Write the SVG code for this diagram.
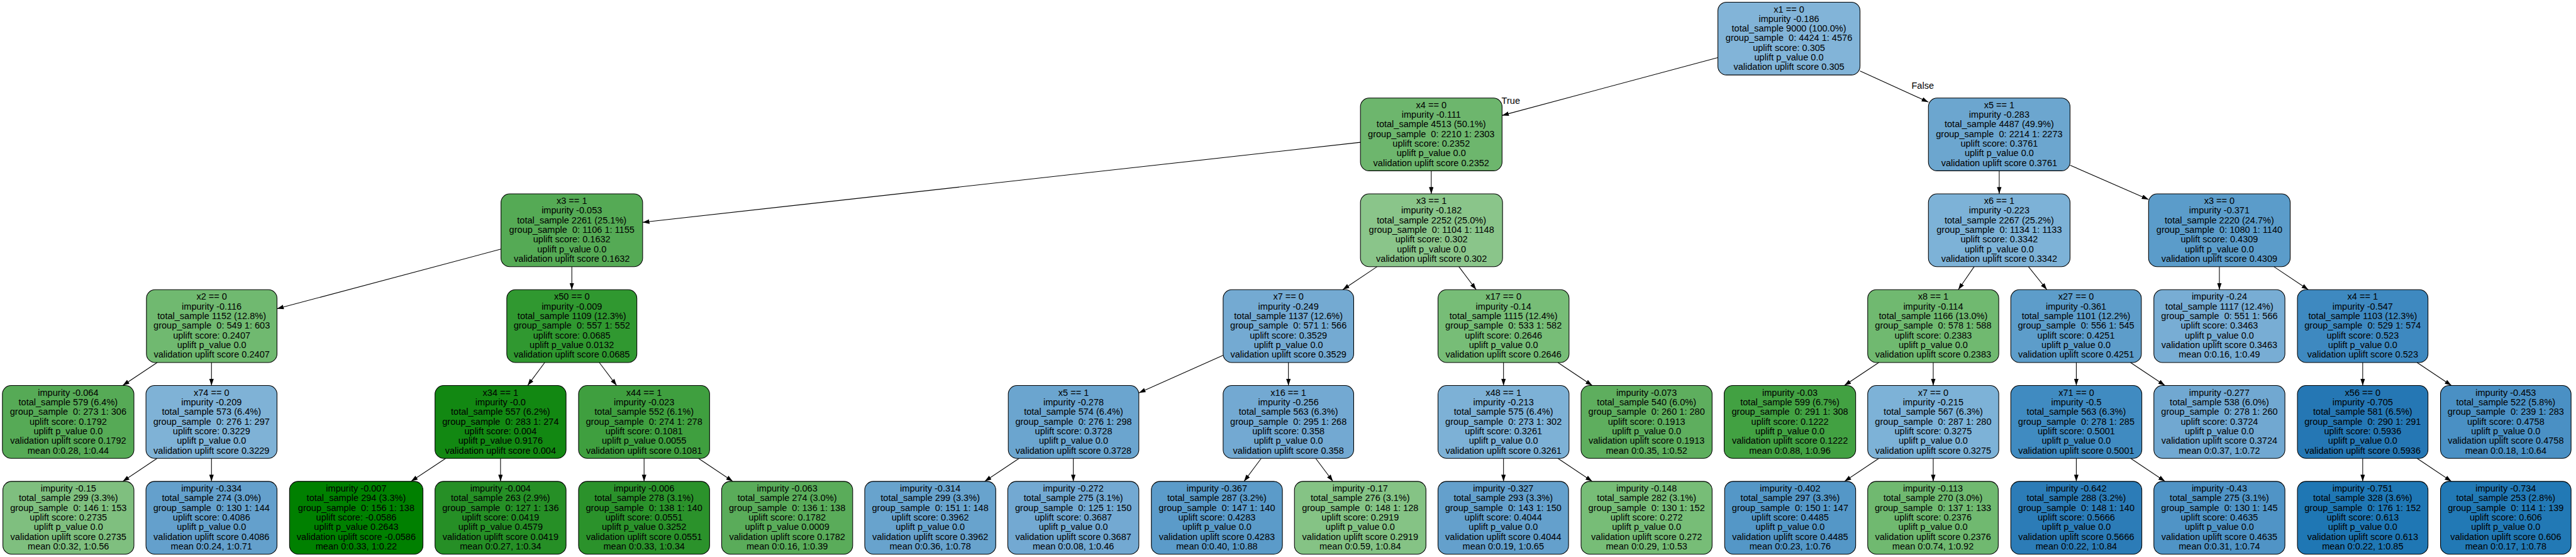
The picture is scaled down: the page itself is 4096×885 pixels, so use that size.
<svg xmlns="http://www.w3.org/2000/svg" width="4096" height="885" viewBox="0 0 4096 885">
<style>
.node rect{stroke:#000;stroke-width:1.4}
.node text,.lbl{font-family:"Liberation Sans",Arial,sans-serif;font-size:19px;fill:#000;white-space:pre}
.node text{text-anchor:middle}
#edges path{fill:none;stroke:#000;stroke-width:1.4;marker-end:url(#arr)}
</style>
<defs>
<marker id="arr" markerUnits="userSpaceOnUse" markerWidth="15" markerHeight="10" refX="14" refY="4.7" orient="auto"><path d="M0,0 L14,4.7 L0,9.4 z" fill="#000"/></marker>
</defs>
<rect width="4096" height="885" fill="#fff"/>
<g transform="scale(0.766)">
<g id="edges">
<path d="M3566,119.5 L3118,239.4"/>
<path d="M3861,147.2 L4003,211.8"/>
<path d="M2824,295.2 L1334,461.2"/>
<path d="M2971,354.3 L2971,402.1"/>
<path d="M4150,354.3 L4150,402.1"/>
<path d="M4297,342.7 L4460,413.7"/>
<path d="M1040,516.7 L575,640.4"/>
<path d="M1187,553.1 L1187,600.9"/>
<path d="M2858.7,553.1 L2787.3,600.9"/>
<path d="M3028.3,553.1 L3064.2,600.9"/>
<path d="M4098,553.1 L4065,600.9"/>
<path d="M4210.6,553.1 L4248.9,600.9"/>
<path d="M4607,553.1 L4607,600.9"/>
<path d="M4720,553.1 L4791.5,600.9"/>
<path d="M326.3,751.9 L254.7,799.7"/>
<path d="M439,751.9 L439,799.7"/>
<path d="M1130.8,751.9 L1095.2,799.7"/>
<path d="M1244,751.9 L1280,799.7"/>
<path d="M2539,736.8 L2364,814.8"/>
<path d="M2674.5,751.9 L2674.5,799.7"/>
<path d="M3121,751.9 L3121,799.7"/>
<path d="M3233.8,751.9 L3305.2,799.7"/>
<path d="M3900,751.9 L3828.5,799.7"/>
<path d="M4013,751.9 L4013,799.7"/>
<path d="M4310,751.9 L4310,799.7"/>
<path d="M4422.5,751.9 L4494,799.7"/>
<path d="M4904.5,751.9 L4904.5,799.7"/>
<path d="M5017.3,751.9 L5088.7,799.7"/>
<path d="M326.2,950.7 L254.8,998.5"/>
<path d="M439,950.7 L439,998.5"/>
<path d="M925.3,950.7 L853.2,998.5"/>
<path d="M1039,950.7 L1039,998.5"/>
<path d="M1337,950.7 L1337,998.5"/>
<path d="M1449.8,950.7 L1521.2,998.5"/>
<path d="M2115.5,950.7 L2044,998.5"/>
<path d="M2228,950.7 L2228,998.5"/>
<path d="M2618.1,950.7 L2582.4,998.5"/>
<path d="M2731.1,950.7 L2766.9,998.5"/>
<path d="M3121,950.7 L3121,998.5"/>
<path d="M3233.8,950.7 L3305.2,998.5"/>
<path d="M3900.2,950.7 L3828.8,998.5"/>
<path d="M4013,950.7 L4013,998.5"/>
<path d="M4310,950.7 L4310,998.5"/>
<path d="M4422.8,950.7 L4494.2,998.5"/>
<path d="M4904.5,950.7 L4904.5,998.5"/>
<path d="M5017.3,950.7 L5088.7,998.5"/>
<text class="lbl" x="3117" y="216">True</text>
<text class="lbl" x="3968" y="184">False</text>
</g>

<g id="n0" class="node"><rect x="3566" y="4.5" width="295" height="151" rx="18" fill="#82b4d8"/><text y="25.5"><tspan x="3713.5">x1 == 0</tspan><tspan x="3713.5" dy="20">impurity -0.186</tspan><tspan x="3713.5" dy="20">total_sample 9000 (100.0%)</tspan><tspan x="3713.5" dy="20">group_sample  0: 4424 1: 4576</tspan><tspan x="3713.5" dy="20">uplift score: 0.305</tspan><tspan x="3713.5" dy="20">uplift p_value 0.0</tspan><tspan x="3713.5" dy="20">validation uplift score 0.305</tspan></text></g>

<g id="n1" class="node"><rect x="2824" y="203.3" width="294" height="151" rx="18" fill="#6db66d"/><text y="224.3"><tspan x="2971">x4 == 0</tspan><tspan x="2971" dy="20">impurity -0.111</tspan><tspan x="2971" dy="20">total_sample 4513 (50.1%)</tspan><tspan x="2971" dy="20">group_sample  0: 2210 1: 2303</tspan><tspan x="2971" dy="20">uplift score: 0.2352</tspan><tspan x="2971" dy="20">uplift p_value 0.0</tspan><tspan x="2971" dy="20">validation uplift score 0.2352</tspan></text></g>

<g id="n2" class="node"><rect x="4003" y="203.3" width="294" height="151" rx="18" fill="#6ca6cf"/><text y="224.3"><tspan x="4150">x5 == 1</tspan><tspan x="4150" dy="20">impurity -0.283</tspan><tspan x="4150" dy="20">total_sample 4487 (49.9%)</tspan><tspan x="4150" dy="20">group_sample  0: 2214 1: 2273</tspan><tspan x="4150" dy="20">uplift score: 0.3761</tspan><tspan x="4150" dy="20">uplift p_value 0.0</tspan><tspan x="4150" dy="20">validation uplift score 0.3761</tspan></text></g>

<g id="n3" class="node"><rect x="1040" y="402.1" width="294" height="151" rx="18" fill="#55aa55"/><text y="423.1"><tspan x="1187">x3 == 1</tspan><tspan x="1187" dy="20">impurity -0.053</tspan><tspan x="1187" dy="20">total_sample 2261 (25.1%)</tspan><tspan x="1187" dy="20">group_sample  0: 1106 1: 1155</tspan><tspan x="1187" dy="20">uplift score: 0.1632</tspan><tspan x="1187" dy="20">uplift p_value 0.0</tspan><tspan x="1187" dy="20">validation uplift score 0.1632</tspan></text></g>

<g id="n4" class="node"><rect x="2824" y="402.1" width="295" height="151" rx="18" fill="#8ac58a"/><text y="423.1"><tspan x="2971.5">x3 == 1</tspan><tspan x="2971.5" dy="20">impurity -0.182</tspan><tspan x="2971.5" dy="20">total_sample 2252 (25.0%)</tspan><tspan x="2971.5" dy="20">group_sample  0: 1104 1: 1148</tspan><tspan x="2971.5" dy="20">uplift score: 0.302</tspan><tspan x="2971.5" dy="20">uplift p_value 0.0</tspan><tspan x="2971.5" dy="20">validation uplift score 0.302</tspan></text></g>

<g id="n5" class="node"><rect x="4003" y="402.1" width="294" height="151" rx="18" fill="#7db2d7"/><text y="423.1"><tspan x="4150">x6 == 1</tspan><tspan x="4150" dy="20">impurity -0.223</tspan><tspan x="4150" dy="20">total_sample 2267 (25.2%)</tspan><tspan x="4150" dy="20">group_sample  0: 1134 1: 1133</tspan><tspan x="4150" dy="20">uplift score: 0.3342</tspan><tspan x="4150" dy="20">uplift p_value 0.0</tspan><tspan x="4150" dy="20">validation uplift score 0.3342</tspan></text></g>

<g id="n6" class="node"><rect x="4460" y="402.1" width="294" height="151" rx="18" fill="#5b9cca"/><text y="423.1"><tspan x="4607">x3 == 0</tspan><tspan x="4607" dy="20">impurity -0.371</tspan><tspan x="4607" dy="20">total_sample 2220 (24.7%)</tspan><tspan x="4607" dy="20">group_sample  0: 1080 1: 1140</tspan><tspan x="4607" dy="20">uplift score: 0.4309</tspan><tspan x="4607" dy="20">uplift p_value 0.0</tspan><tspan x="4607" dy="20">validation uplift score 0.4309</tspan></text></g>

<g id="n7" class="node"><rect x="304" y="600.9" width="271" height="151" rx="18" fill="#70b970"/><text y="621.9"><tspan x="439.5">x2 == 0</tspan><tspan x="439.5" dy="20">impurity -0.116</tspan><tspan x="439.5" dy="20">total_sample 1152 (12.8%)</tspan><tspan x="439.5" dy="20">group_sample  0: 549 1: 603</tspan><tspan x="439.5" dy="20">uplift score: 0.2407</tspan><tspan x="439.5" dy="20">uplift p_value 0.0</tspan><tspan x="439.5" dy="20">validation uplift score 0.2407</tspan></text></g>

<g id="n8" class="node"><rect x="1052" y="600.9" width="270" height="151" rx="18" fill="#309830"/><text y="621.9"><tspan x="1187">x50 == 0</tspan><tspan x="1187" dy="20">impurity -0.009</tspan><tspan x="1187" dy="20">total_sample 1109 (12.3%)</tspan><tspan x="1187" dy="20">group_sample  0: 557 1: 552</tspan><tspan x="1187" dy="20">uplift score: 0.0685</tspan><tspan x="1187" dy="20">uplift p_value 0.0132</tspan><tspan x="1187" dy="20">validation uplift score 0.0685</tspan></text></g>

<g id="n9" class="node"><rect x="2539" y="600.9" width="271" height="151" rx="18" fill="#74aad2"/><text y="621.9"><tspan x="2674.5">x7 == 0</tspan><tspan x="2674.5" dy="20">impurity -0.249</tspan><tspan x="2674.5" dy="20">total_sample 1137 (12.6%)</tspan><tspan x="2674.5" dy="20">group_sample  0: 571 1: 566</tspan><tspan x="2674.5" dy="20">uplift score: 0.3529</tspan><tspan x="2674.5" dy="20">uplift p_value 0.0</tspan><tspan x="2674.5" dy="20">validation uplift score 0.3529</tspan></text></g>

<g id="n10" class="node"><rect x="2985" y="600.9" width="272" height="151" rx="18" fill="#77bd77"/><text y="621.9"><tspan x="3121">x17 == 0</tspan><tspan x="3121" dy="20">impurity -0.14</tspan><tspan x="3121" dy="20">total_sample 1115 (12.4%)</tspan><tspan x="3121" dy="20">group_sample  0: 533 1: 582</tspan><tspan x="3121" dy="20">uplift score: 0.2646</tspan><tspan x="3121" dy="20">uplift p_value 0.0</tspan><tspan x="3121" dy="20">validation uplift score 0.2646</tspan></text></g>

<g id="n11" class="node"><rect x="3877" y="600.9" width="272" height="151" rx="18" fill="#70b970"/><text y="621.9"><tspan x="4013">x8 == 1</tspan><tspan x="4013" dy="20">impurity -0.114</tspan><tspan x="4013" dy="20">total_sample 1166 (13.0%)</tspan><tspan x="4013" dy="20">group_sample  0: 578 1: 588</tspan><tspan x="4013" dy="20">uplift score: 0.2383</tspan><tspan x="4013" dy="20">uplift p_value 0.0</tspan><tspan x="4013" dy="20">validation uplift score 0.2383</tspan></text></g>

<g id="n12" class="node"><rect x="4174" y="600.9" width="271" height="151" rx="18" fill="#5d9dca"/><text y="621.9"><tspan x="4309.5">x27 == 0</tspan><tspan x="4309.5" dy="20">impurity -0.361</tspan><tspan x="4309.5" dy="20">total_sample 1101 (12.2%)</tspan><tspan x="4309.5" dy="20">group_sample  0: 556 1: 545</tspan><tspan x="4309.5" dy="20">uplift score: 0.4251</tspan><tspan x="4309.5" dy="20">uplift p_value 0.0</tspan><tspan x="4309.5" dy="20">validation uplift score 0.4251</tspan></text></g>

<g id="n13" class="node"><rect x="4471" y="600.9" width="272" height="151" rx="18" fill="#78add4"/><text y="621.9"><tspan x="4607">impurity -0.24</tspan><tspan x="4607" dy="20">total_sample 1117 (12.4%)</tspan><tspan x="4607" dy="20">group_sample  0: 551 1: 566</tspan><tspan x="4607" dy="20">uplift score: 0.3463</tspan><tspan x="4607" dy="20">uplift p_value 0.0</tspan><tspan x="4607" dy="20">validation uplift score 0.3463</tspan><tspan x="4607" dy="20">mean 0:0.16, 1:0.49</tspan></text></g>

<g id="n14" class="node"><rect x="4769" y="600.9" width="271" height="151" rx="18" fill="#3e89c0"/><text y="621.9"><tspan x="4904.5">x4 == 1</tspan><tspan x="4904.5" dy="20">impurity -0.547</tspan><tspan x="4904.5" dy="20">total_sample 1103 (12.3%)</tspan><tspan x="4904.5" dy="20">group_sample  0: 529 1: 574</tspan><tspan x="4904.5" dy="20">uplift score: 0.523</tspan><tspan x="4904.5" dy="20">uplift p_value 0.0</tspan><tspan x="4904.5" dy="20">validation uplift score 0.523</tspan></text></g>

<g id="n15" class="node"><rect x="5" y="799.7" width="273" height="151" rx="18" fill="#56aa56"/><text y="820.7"><tspan x="141.5">impurity -0.064</tspan><tspan x="141.5" dy="20">total_sample 579 (6.4%)</tspan><tspan x="141.5" dy="20">group_sample  0: 273 1: 306</tspan><tspan x="141.5" dy="20">uplift score: 0.1792</tspan><tspan x="141.5" dy="20">uplift p_value 0.0</tspan><tspan x="141.5" dy="20">validation uplift score 0.1792</tspan><tspan x="141.5" dy="20">mean 0:0.28, 1:0.44</tspan></text></g>

<g id="n16" class="node"><rect x="303" y="799.7" width="272" height="151" rx="18" fill="#7fb2d6"/><text y="820.7"><tspan x="439">x74 == 0</tspan><tspan x="439" dy="20">impurity -0.209</tspan><tspan x="439" dy="20">total_sample 573 (6.4%)</tspan><tspan x="439" dy="20">group_sample  0: 276 1: 297</tspan><tspan x="439" dy="20">uplift score: 0.3229</tspan><tspan x="439" dy="20">uplift p_value 0.0</tspan><tspan x="439" dy="20">validation uplift score 0.3229</tspan></text></g>

<g id="n17" class="node"><rect x="903" y="799.7" width="272" height="151" rx="18" fill="#128812"/><text y="820.7"><tspan x="1039">x34 == 1</tspan><tspan x="1039" dy="20">impurity -0.0</tspan><tspan x="1039" dy="20">total_sample 557 (6.2%)</tspan><tspan x="1039" dy="20">group_sample  0: 283 1: 274</tspan><tspan x="1039" dy="20">uplift score: 0.004</tspan><tspan x="1039" dy="20">uplift p_value 0.9176</tspan><tspan x="1039" dy="20">validation uplift score 0.004</tspan></text></g>

<g id="n18" class="node"><rect x="1201" y="799.7" width="272" height="151" rx="18" fill="#3f9f3f"/><text y="820.7"><tspan x="1337">x44 == 1</tspan><tspan x="1337" dy="20">impurity -0.023</tspan><tspan x="1337" dy="20">total_sample 552 (6.1%)</tspan><tspan x="1337" dy="20">group_sample  0: 274 1: 278</tspan><tspan x="1337" dy="20">uplift score: 0.1081</tspan><tspan x="1337" dy="20">uplift p_value 0.0055</tspan><tspan x="1337" dy="20">validation uplift score 0.1081</tspan></text></g>

<g id="n19" class="node"><rect x="2093" y="799.7" width="271" height="151" rx="18" fill="#6ba5cf"/><text y="820.7"><tspan x="2228.5">x5 == 1</tspan><tspan x="2228.5" dy="20">impurity -0.278</tspan><tspan x="2228.5" dy="20">total_sample 574 (6.4%)</tspan><tspan x="2228.5" dy="20">group_sample  0: 276 1: 298</tspan><tspan x="2228.5" dy="20">uplift score: 0.3728</tspan><tspan x="2228.5" dy="20">uplift p_value 0.0</tspan><tspan x="2228.5" dy="20">validation uplift score 0.3728</tspan></text></g>

<g id="n20" class="node"><rect x="2539" y="799.7" width="271" height="151" rx="18" fill="#73a9d2"/><text y="820.7"><tspan x="2674.5">x16 == 1</tspan><tspan x="2674.5" dy="20">impurity -0.256</tspan><tspan x="2674.5" dy="20">total_sample 563 (6.3%)</tspan><tspan x="2674.5" dy="20">group_sample  0: 295 1: 268</tspan><tspan x="2674.5" dy="20">uplift score: 0.358</tspan><tspan x="2674.5" dy="20">uplift p_value 0.0</tspan><tspan x="2674.5" dy="20">validation uplift score 0.358</tspan></text></g>

<g id="n21" class="node"><rect x="2985" y="799.7" width="272" height="151" rx="18" fill="#7db1d6"/><text y="820.7"><tspan x="3121">x48 == 1</tspan><tspan x="3121" dy="20">impurity -0.213</tspan><tspan x="3121" dy="20">total_sample 575 (6.4%)</tspan><tspan x="3121" dy="20">group_sample  0: 273 1: 302</tspan><tspan x="3121" dy="20">uplift score: 0.3261</tspan><tspan x="3121" dy="20">uplift p_value 0.0</tspan><tspan x="3121" dy="20">validation uplift score 0.3261</tspan></text></g>

<g id="n22" class="node"><rect x="3282" y="799.7" width="272" height="151" rx="18" fill="#5eae5e"/><text y="820.7"><tspan x="3418">impurity -0.073</tspan><tspan x="3418" dy="20">total_sample 540 (6.0%)</tspan><tspan x="3418" dy="20">group_sample  0: 260 1: 280</tspan><tspan x="3418" dy="20">uplift score: 0.1913</tspan><tspan x="3418" dy="20">uplift p_value 0.0</tspan><tspan x="3418" dy="20">validation uplift score 0.1913</tspan><tspan x="3418" dy="20">mean 0:0.35, 1:0.52</tspan></text></g>

<g id="n23" class="node"><rect x="3579" y="799.7" width="273" height="151" rx="18" fill="#42a142"/><text y="820.7"><tspan x="3715.5">impurity -0.03</tspan><tspan x="3715.5" dy="20">total_sample 599 (6.7%)</tspan><tspan x="3715.5" dy="20">group_sample  0: 291 1: 308</tspan><tspan x="3715.5" dy="20">uplift score: 0.1222</tspan><tspan x="3715.5" dy="20">uplift p_value 0.0</tspan><tspan x="3715.5" dy="20">validation uplift score 0.1222</tspan><tspan x="3715.5" dy="20">mean 0:0.88, 1:0.96</tspan></text></g>

<g id="n24" class="node"><rect x="3877" y="799.7" width="272" height="151" rx="18" fill="#7db2d7"/><text y="820.7"><tspan x="4013">x7 == 0</tspan><tspan x="4013" dy="20">impurity -0.215</tspan><tspan x="4013" dy="20">total_sample 567 (6.3%)</tspan><tspan x="4013" dy="20">group_sample  0: 287 1: 280</tspan><tspan x="4013" dy="20">uplift score: 0.3275</tspan><tspan x="4013" dy="20">uplift p_value 0.0</tspan><tspan x="4013" dy="20">validation uplift score 0.3275</tspan></text></g>

<g id="n25" class="node"><rect x="4174" y="799.7" width="272" height="151" rx="18" fill="#408bc1"/><text y="820.7"><tspan x="4310">x71 == 0</tspan><tspan x="4310" dy="20">impurity -0.5</tspan><tspan x="4310" dy="20">total_sample 563 (6.3%)</tspan><tspan x="4310" dy="20">group_sample  0: 278 1: 285</tspan><tspan x="4310" dy="20">uplift score: 0.5001</tspan><tspan x="4310" dy="20">uplift p_value 0.0</tspan><tspan x="4310" dy="20">validation uplift score 0.5001</tspan></text></g>

<g id="n26" class="node"><rect x="4471" y="799.7" width="272" height="151" rx="18" fill="#71a8d1"/><text y="820.7"><tspan x="4607">impurity -0.277</tspan><tspan x="4607" dy="20">total_sample 538 (6.0%)</tspan><tspan x="4607" dy="20">group_sample  0: 278 1: 260</tspan><tspan x="4607" dy="20">uplift score: 0.3724</tspan><tspan x="4607" dy="20">uplift p_value 0.0</tspan><tspan x="4607" dy="20">validation uplift score 0.3724</tspan><tspan x="4607" dy="20">mean 0:0.37, 1:0.72</tspan></text></g>

<g id="n27" class="node"><rect x="4769" y="799.7" width="271" height="151" rx="18" fill="#2577b4"/><text y="820.7"><tspan x="4904.5">x56 == 0</tspan><tspan x="4904.5" dy="20">impurity -0.705</tspan><tspan x="4904.5" dy="20">total_sample 581 (6.5%)</tspan><tspan x="4904.5" dy="20">group_sample  0: 290 1: 291</tspan><tspan x="4904.5" dy="20">uplift score: 0.5936</tspan><tspan x="4904.5" dy="20">uplift p_value 0.0</tspan><tspan x="4904.5" dy="20">validation uplift score 0.5936</tspan></text></g>

<g id="n28" class="node"><rect x="5066" y="799.7" width="271" height="151" rx="18" fill="#4a90c4"/><text y="820.7"><tspan x="5201.5">impurity -0.453</tspan><tspan x="5201.5" dy="20">total_sample 522 (5.8%)</tspan><tspan x="5201.5" dy="20">group_sample  0: 239 1: 283</tspan><tspan x="5201.5" dy="20">uplift score: 0.4758</tspan><tspan x="5201.5" dy="20">uplift p_value 0.0</tspan><tspan x="5201.5" dy="20">validation uplift score 0.4758</tspan><tspan x="5201.5" dy="20">mean 0:0.18, 1:0.64</tspan></text></g>

<g id="n29" class="node"><rect x="6" y="998.5" width="272" height="151" rx="18" fill="#7fbf7f"/><text y="1019.5"><tspan x="142">impurity -0.15</tspan><tspan x="142" dy="20">total_sample 299 (3.3%)</tspan><tspan x="142" dy="20">group_sample  0: 146 1: 153</tspan><tspan x="142" dy="20">uplift score: 0.2735</tspan><tspan x="142" dy="20">uplift p_value 0.0</tspan><tspan x="142" dy="20">validation uplift score 0.2735</tspan><tspan x="142" dy="20">mean 0:0.32, 1:0.56</tspan></text></g>

<g id="n30" class="node"><rect x="303" y="998.5" width="272" height="151" rx="18" fill="#64a0cc"/><text y="1019.5"><tspan x="439">impurity -0.334</tspan><tspan x="439" dy="20">total_sample 274 (3.0%)</tspan><tspan x="439" dy="20">group_sample  0: 130 1: 144</tspan><tspan x="439" dy="20">uplift score: 0.4086</tspan><tspan x="439" dy="20">uplift p_value 0.0</tspan><tspan x="439" dy="20">validation uplift score 0.4086</tspan><tspan x="439" dy="20">mean 0:0.24, 1:0.71</tspan></text></g>

<g id="n31" class="node"><rect x="601" y="998.5" width="277" height="151" rx="18" fill="#008000"/><text y="1019.5"><tspan x="739.5">impurity -0.007</tspan><tspan x="739.5" dy="20">total_sample 294 (3.3%)</tspan><tspan x="739.5" dy="20">group_sample  0: 156 1: 138</tspan><tspan x="739.5" dy="20">uplift score: -0.0586</tspan><tspan x="739.5" dy="20">uplift p_value 0.2643</tspan><tspan x="739.5" dy="20">validation uplift score -0.0586</tspan><tspan x="739.5" dy="20">mean 0:0.33, 1:0.22</tspan></text></g>

<g id="n32" class="node"><rect x="903" y="998.5" width="272" height="151" rx="18" fill="#268f26"/><text y="1019.5"><tspan x="1039">impurity -0.004</tspan><tspan x="1039" dy="20">total_sample 263 (2.9%)</tspan><tspan x="1039" dy="20">group_sample  0: 127 1: 136</tspan><tspan x="1039" dy="20">uplift score: 0.0419</tspan><tspan x="1039" dy="20">uplift p_value 0.4579</tspan><tspan x="1039" dy="20">validation uplift score 0.0419</tspan><tspan x="1039" dy="20">mean 0:0.27, 1:0.34</tspan></text></g>

<g id="n33" class="node"><rect x="1201" y="998.5" width="272" height="151" rx="18" fill="#2b922b"/><text y="1019.5"><tspan x="1337">impurity -0.006</tspan><tspan x="1337" dy="20">total_sample 278 (3.1%)</tspan><tspan x="1337" dy="20">group_sample  0: 138 1: 140</tspan><tspan x="1337" dy="20">uplift score: 0.0551</tspan><tspan x="1337" dy="20">uplift p_value 0.3252</tspan><tspan x="1337" dy="20">validation uplift score 0.0551</tspan><tspan x="1337" dy="20">mean 0:0.33, 1:0.34</tspan></text></g>

<g id="n34" class="node"><rect x="1498" y="998.5" width="272" height="151" rx="18" fill="#5aac5a"/><text y="1019.5"><tspan x="1634">impurity -0.063</tspan><tspan x="1634" dy="20">total_sample 274 (3.0%)</tspan><tspan x="1634" dy="20">group_sample  0: 136 1: 138</tspan><tspan x="1634" dy="20">uplift score: 0.1782</tspan><tspan x="1634" dy="20">uplift p_value 0.0009</tspan><tspan x="1634" dy="20">validation uplift score 0.1782</tspan><tspan x="1634" dy="20">mean 0:0.16, 1:0.39</tspan></text></g>

<g id="n35" class="node"><rect x="1795" y="998.5" width="272" height="151" rx="18" fill="#68a3cd"/><text y="1019.5"><tspan x="1931">impurity -0.314</tspan><tspan x="1931" dy="20">total_sample 299 (3.3%)</tspan><tspan x="1931" dy="20">group_sample  0: 151 1: 148</tspan><tspan x="1931" dy="20">uplift score: 0.3962</tspan><tspan x="1931" dy="20">uplift p_value 0.0</tspan><tspan x="1931" dy="20">validation uplift score 0.3962</tspan><tspan x="1931" dy="20">mean 0:0.36, 1:0.78</tspan></text></g>

<g id="n36" class="node"><rect x="2092" y="998.5" width="272" height="151" rx="18" fill="#73a9d2"/><text y="1019.5"><tspan x="2228">impurity -0.272</tspan><tspan x="2228" dy="20">total_sample 275 (3.1%)</tspan><tspan x="2228" dy="20">group_sample  0: 125 1: 150</tspan><tspan x="2228" dy="20">uplift score: 0.3687</tspan><tspan x="2228" dy="20">uplift p_value 0.0</tspan><tspan x="2228" dy="20">validation uplift score 0.3687</tspan><tspan x="2228" dy="20">mean 0:0.08, 1:0.46</tspan></text></g>

<g id="n37" class="node"><rect x="2390" y="998.5" width="272" height="151" rx="18" fill="#5b9bc9"/><text y="1019.5"><tspan x="2526">impurity -0.367</tspan><tspan x="2526" dy="20">total_sample 287 (3.2%)</tspan><tspan x="2526" dy="20">group_sample  0: 147 1: 140</tspan><tspan x="2526" dy="20">uplift score: 0.4283</tspan><tspan x="2526" dy="20">uplift p_value 0.0</tspan><tspan x="2526" dy="20">validation uplift score 0.4283</tspan><tspan x="2526" dy="20">mean 0:0.40, 1:0.88</tspan></text></g>

<g id="n38" class="node"><rect x="2687" y="998.5" width="273" height="151" rx="18" fill="#85c385"/><text y="1019.5"><tspan x="2823.5">impurity -0.17</tspan><tspan x="2823.5" dy="20">total_sample 276 (3.1%)</tspan><tspan x="2823.5" dy="20">group_sample  0: 148 1: 128</tspan><tspan x="2823.5" dy="20">uplift score: 0.2919</tspan><tspan x="2823.5" dy="20">uplift p_value 0.0</tspan><tspan x="2823.5" dy="20">validation uplift score 0.2919</tspan><tspan x="2823.5" dy="20">mean 0:0.59, 1:0.84</tspan></text></g>

<g id="n39" class="node"><rect x="2985" y="998.5" width="271" height="151" rx="18" fill="#64a0cc"/><text y="1019.5"><tspan x="3120.5">impurity -0.327</tspan><tspan x="3120.5" dy="20">total_sample 293 (3.3%)</tspan><tspan x="3120.5" dy="20">group_sample  0: 143 1: 150</tspan><tspan x="3120.5" dy="20">uplift score: 0.4044</tspan><tspan x="3120.5" dy="20">uplift p_value 0.0</tspan><tspan x="3120.5" dy="20">validation uplift score 0.4044</tspan><tspan x="3120.5" dy="20">mean 0:0.19, 1:0.65</tspan></text></g>

<g id="n40" class="node"><rect x="3282" y="998.5" width="272" height="151" rx="18" fill="#77bd77"/><text y="1019.5"><tspan x="3418">impurity -0.148</tspan><tspan x="3418" dy="20">total_sample 282 (3.1%)</tspan><tspan x="3418" dy="20">group_sample  0: 130 1: 152</tspan><tspan x="3418" dy="20">uplift score: 0.272</tspan><tspan x="3418" dy="20">uplift p_value 0.0</tspan><tspan x="3418" dy="20">validation uplift score 0.272</tspan><tspan x="3418" dy="20">mean 0:0.29, 1:0.53</tspan></text></g>

<g id="n41" class="node"><rect x="3580" y="998.5" width="272" height="151" rx="18" fill="#5497c7"/><text y="1019.5"><tspan x="3716">impurity -0.402</tspan><tspan x="3716" dy="20">total_sample 297 (3.3%)</tspan><tspan x="3716" dy="20">group_sample  0: 150 1: 147</tspan><tspan x="3716" dy="20">uplift score: 0.4485</tspan><tspan x="3716" dy="20">uplift p_value 0.0</tspan><tspan x="3716" dy="20">validation uplift score 0.4485</tspan><tspan x="3716" dy="20">mean 0:0.23, 1:0.76</tspan></text></g>

<g id="n42" class="node"><rect x="3877" y="998.5" width="271" height="151" rx="18" fill="#70b970"/><text y="1019.5"><tspan x="4012.5">impurity -0.113</tspan><tspan x="4012.5" dy="20">total_sample 270 (3.0%)</tspan><tspan x="4012.5" dy="20">group_sample  0: 137 1: 133</tspan><tspan x="4012.5" dy="20">uplift score: 0.2376</tspan><tspan x="4012.5" dy="20">uplift p_value 0.0</tspan><tspan x="4012.5" dy="20">validation uplift score 0.2376</tspan><tspan x="4012.5" dy="20">mean 0:0.74, 1:0.92</tspan></text></g>

<g id="n43" class="node"><rect x="4174" y="998.5" width="272" height="151" rx="18" fill="#2c7cb7"/><text y="1019.5"><tspan x="4310">impurity -0.642</tspan><tspan x="4310" dy="20">total_sample 288 (3.2%)</tspan><tspan x="4310" dy="20">group_sample  0: 148 1: 140</tspan><tspan x="4310" dy="20">uplift score: 0.5666</tspan><tspan x="4310" dy="20">uplift p_value 0.0</tspan><tspan x="4310" dy="20">validation uplift score 0.5666</tspan><tspan x="4310" dy="20">mean 0:0.22, 1:0.84</tspan></text></g>

<g id="n44" class="node"><rect x="4471" y="998.5" width="272" height="151" rx="18" fill="#5094c6"/><text y="1019.5"><tspan x="4607">impurity -0.43</tspan><tspan x="4607" dy="20">total_sample 275 (3.1%)</tspan><tspan x="4607" dy="20">group_sample  0: 130 1: 145</tspan><tspan x="4607" dy="20">uplift score: 0.4635</tspan><tspan x="4607" dy="20">uplift p_value 0.0</tspan><tspan x="4607" dy="20">validation uplift score 0.4635</tspan><tspan x="4607" dy="20">mean 0:0.31, 1:0.74</tspan></text></g>

<g id="n45" class="node"><rect x="4769" y="998.5" width="271" height="151" rx="18" fill="#1f77b4"/><text y="1019.5"><tspan x="4904.5">impurity -0.751</tspan><tspan x="4904.5" dy="20">total_sample 328 (3.6%)</tspan><tspan x="4904.5" dy="20">group_sample  0: 176 1: 152</tspan><tspan x="4904.5" dy="20">uplift score: 0.613</tspan><tspan x="4904.5" dy="20">uplift p_value 0.0</tspan><tspan x="4904.5" dy="20">validation uplift score 0.613</tspan><tspan x="4904.5" dy="20">mean 0:0.22, 1:0.85</tspan></text></g>

<g id="n46" class="node"><rect x="5066" y="998.5" width="271" height="151" rx="18" fill="#2279b5"/><text y="1019.5"><tspan x="5201.5">impurity -0.734</tspan><tspan x="5201.5" dy="20">total_sample 253 (2.8%)</tspan><tspan x="5201.5" dy="20">group_sample  0: 114 1: 139</tspan><tspan x="5201.5" dy="20">uplift score: 0.606</tspan><tspan x="5201.5" dy="20">uplift p_value 0.0</tspan><tspan x="5201.5" dy="20">validation uplift score 0.606</tspan><tspan x="5201.5" dy="20">mean 0:0.17, 1:0.78</tspan></text></g>
</g>
</svg>
